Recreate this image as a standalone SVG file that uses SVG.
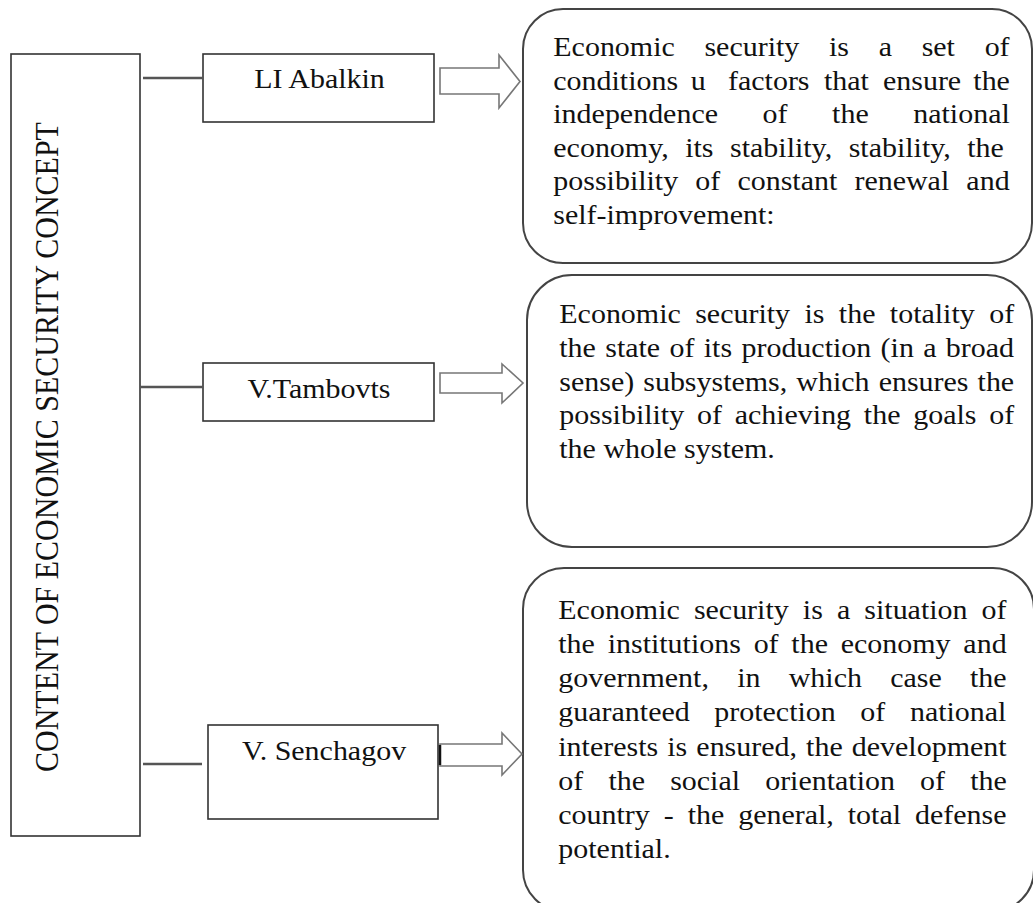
<svg xmlns="http://www.w3.org/2000/svg" width="1033" height="903" viewBox="0 0 1033 903">
<style>
.bg{fill:#fff}
.box{fill:#fff;stroke:#333;stroke-width:1.6}
.rbox{fill:#fff;stroke:#444;stroke-width:2}
.conn{stroke:#555;stroke-width:2.5;fill:none}
.arrow{fill:#fff;stroke:#777;stroke-width:1.6;stroke-linejoin:miter}
.t{font-family:"Liberation Serif","Times New Roman",serif;font-size:27px;fill:#111}
.tv{font-family:"Liberation Serif","Times New Roman",serif;font-size:30px;fill:#111}
</style>
<rect class="bg" x="0" y="0" width="1033" height="903"/>

<g id="concept">
<rect class="box" x="11" y="54" width="129" height="782"/>
<text class="tv" transform="translate(58,772) scale(1.11,1) rotate(-90)">CONTENT OF ECONOMIC SECURITY CONCEPT</text>
</g>

<g id="abalkin">
<rect class="box" x="203" y="54" width="231" height="68"/>
<text class="t" text-anchor="middle" transform="translate(319.5,88) scale(1.11,1)">LI Abalkin</text>
</g>

<g id="tambovts">
<rect class="box" x="203" y="363" width="231" height="58"/>
<text class="t" text-anchor="middle" transform="translate(319,398) scale(1.11,1)">V.Tambovts</text>
</g>

<g id="senchagov">
<rect class="box" x="208" y="725" width="230" height="94"/>
<text class="t" text-anchor="middle" transform="translate(324,760) scale(1.11,1)">V. Senchagov</text>
</g>

<g id="def-abalkin">
<rect class="rbox" x="523" y="9" width="509" height="254" rx="40" ry="40"/>
<g transform="translate(553.3,0) scale(1.11,1)">
<text class="t" y="56" word-spacing="20">Economic security is a set of</text>
<text class="t" y="89.6"><tspan x="0">conditions</tspan> <tspan x="123.8">u</tspan> <tspan x="157.4">factors</tspan> <tspan x="243.9">that</tspan> <tspan x="297">ensure</tspan> <tspan x="378.4">the</tspan></text>
<text class="t" y="123.2" word-spacing="33.4">independence of the national</text>
<text class="t" y="156.8" word-spacing="8.15">economy, its stability, stability, the</text>
<text class="t" y="190.4" word-spacing="8.7">possibility of constant renewal and</text>
<text class="t" y="224">self-improvement:</text>
</g>
</g>

<g id="def-tambovts">
<rect class="rbox" x="527" y="275" width="505" height="272" rx="45" ry="45"/>
<g transform="translate(559.3,0) scale(1.11,1)">
<text class="t" y="323.3" word-spacing="6.24">Economic security is the totality of</text>
<text class="t" y="357" word-spacing="1.67">the state of its production (in a broad</text>
<text class="t" y="390.8" word-spacing="1.43">sense) subsystems, which ensures the</text>
<text class="t" y="424.5" word-spacing="4.74">possibility of achieving the goals of</text>
<text class="t" y="458.3">the whole system.</text>
</g>
</g>

<g id="def-senchagov">
<rect class="rbox" x="523" y="568" width="511" height="343" rx="41" ry="41"/>
<g transform="translate(558.3,0) scale(1.11,1)">
<text class="t" y="619" word-spacing="5.96">Economic security is a situation of</text>
<text class="t" y="653.2" word-spacing="4.76">the institutions of the economy and</text>
<text class="t" y="687.3" word-spacing="18.7">government, in which case the</text>
<text class="t" y="721.5" word-spacing="15.4">guaranteed protection of national</text>
<text class="t" y="755.6" word-spacing="1.45">interests is ensured, the development</text>
<text class="t" y="789.8" word-spacing="15.9">of the social orientation of the</text>
<text class="t" y="823.9" word-spacing="5.8">country - the general, total defense</text>
<text class="t" y="858">potential.</text>
</g>
</g>

<g id="connectors">
<line class="conn" x1="143" y1="78" x2="203" y2="78"/>
<line class="conn" x1="140" y1="387" x2="203" y2="387"/>
<line class="conn" x1="143" y1="764" x2="202" y2="764"/>
<polygon class="arrow" points="440,68 499,68 499,55 520,81.5 499,108 499,94 440,94"/>
<polygon class="arrow" points="440,373 502,373 502,364 523,383 502,403 502,393 440,393"/>
<polygon class="arrow" points="440,744 502,744 502,733 522,754 502,775 502,766 440,766"/>
<line x1="440" y1="745" x2="440" y2="765" stroke="#111" stroke-width="2.5"/>
</g>
</svg>
